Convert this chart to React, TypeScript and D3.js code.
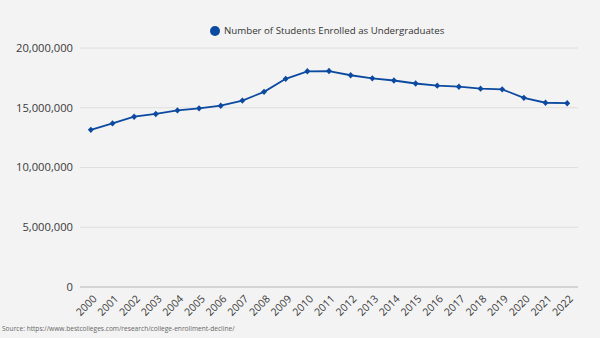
import React from "react";
import * as d3 from "d3";

const years = ["2000","2001","2002","2003","2004","2005","2006","2007","2008","2009","2010","2011","2012","2013","2014","2015","2016","2017","2018","2019","2020","2021","2022"];
const enrolled = [13150000,13690000,14250000,14480000,14780000,14950000,15170000,15600000,16330000,17420000,18050000,18070000,17720000,17460000,17280000,17030000,16850000,16760000,16600000,16540000,15830000,15420000,15380000];
const yTicks = [0, 5000000, 10000000, 15000000, 20000000];
const seriesName = "Number of Students Enrolled as Undergraduates";
const source = "Source: https://www.bestcolleges.com/research/college-enrollment-decline/";

const W = 600, H = 338;
const left = 80, right = 578, top = 48, bottom = 287;
const color = "#0b4aa0";
const font = "'Open Sans', sans-serif";

export default function App() {
  const x = d3.scaleBand<string>().domain(years).range([left, right]);
  const y = d3.scaleLinear().domain([0, 20000000]).range([bottom, top]);
  const cx = (yr: string) => (x(yr) as number) + x.bandwidth() / 2;
  const line = d3.line<number>().x((_, i) => cx(years[i])).y((v) => y(v));
  const fmt = d3.format(",");
  return (
    <svg width={W} height={H} style={{ position: "absolute", left: 0, top: 0 }} fontFamily={font}>
      <rect width={W} height={H} fill="#f3f3f3" />
      {yTicks.map((t) => (
        <g key={t}>
          <line x1={left} x2={right} y1={y(t)} y2={y(t)} stroke={t === 0 ? "#b5b5b5" : "#dedede"} strokeWidth={1} />
          <text x={73} y={y(t)} dy="0.35em" textAnchor="end" fontSize={11.2} fill="#3a3a3a">{fmt(t)}</text>
        </g>
      ))}
      {years.map((yr) => (
        <text key={yr} transform={`translate(${cx(yr) + 4},${bottom + 10}) rotate(-45)`} textAnchor="end" dy="0.35em" fontSize={10.5} fill="#3a3a3a">{yr}</text>
      ))}
      <path d={line(enrolled) || ""} fill="none" stroke={color} strokeWidth={1.8} />
      {enrolled.map((v, i) => {
        const px = cx(years[i]), py = y(v);
        return <path key={i} d={`M${px},${py - 3.2}L${px + 3},${py}L${px},${py + 3.2}L${px - 3},${py}Z`} fill={color} />;
      })}
      <circle cx={215} cy={31} r={5} fill={color} />
      <text x={224} y={31} dy="0.35em" fontSize={9.7} fill="#333">{seriesName}</text>
      <text x={2} y={331} fontSize={6.6} fill="#666">{source}</text>
    </svg>
  );
}
